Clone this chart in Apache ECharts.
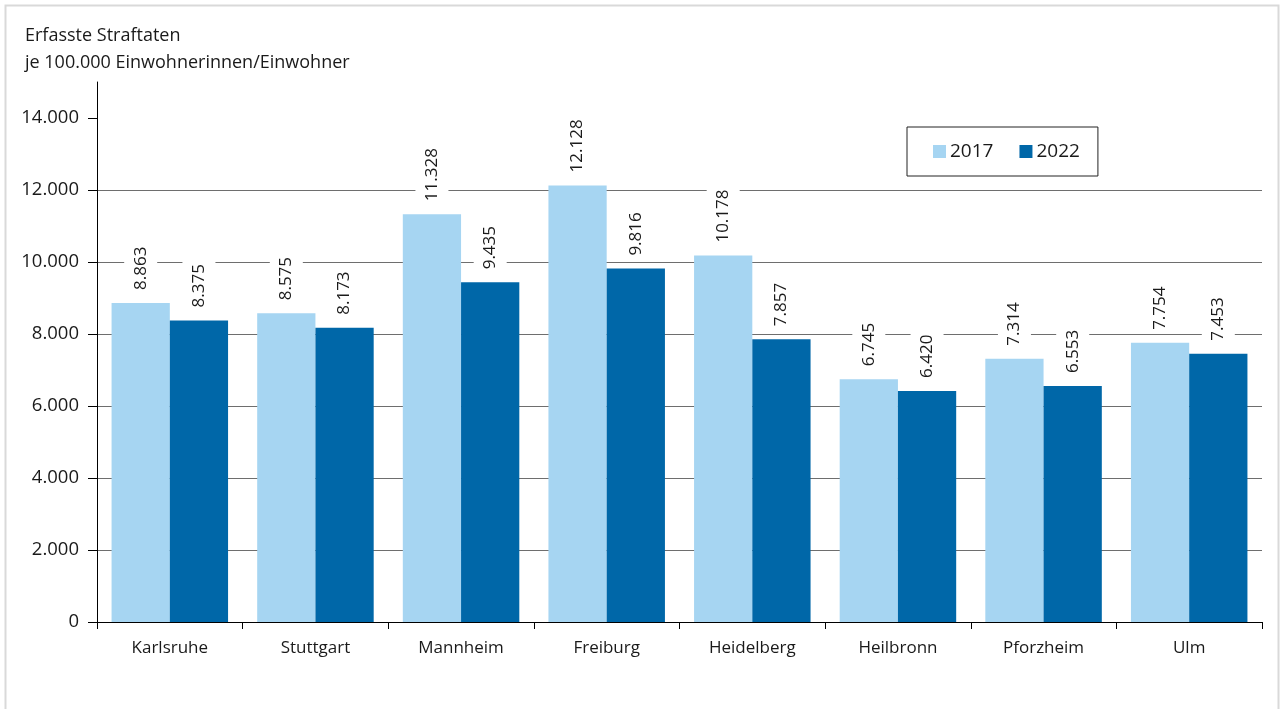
<!DOCTYPE html>
<html>
<head>
<meta charset="utf-8">
<script src="https://cdn.jsdelivr.net/npm/echarts@6/dist/echarts.min.js"></script>
<style>
  html, body { margin: 0; padding: 0; background: #fff; }
  #chart { width: 1280px; height: 709px; }
</style>
</head>
<body>
<div id="chart"></div>
<script>
const cities = ['Karlsruhe', 'Stuttgart', 'Mannheim', 'Freiburg', 'Heidelberg', 'Heilbronn', 'Pforzheim', 'Ulm'];
const values2017 = [8863, 8575, 11328, 12128, 10178, 6745, 7314, 7754];
const values2022 = [8375, 8173, 9435, 9816, 7857, 6420, 6553, 7453];
const yTicks = [0, 2000, 4000, 6000, 8000, 10000, 12000, 14000];

const FONT = '"Open Sans", "Noto Sans", sans-serif';

// German thousands separator
const fmt = (v) => String(v).replace(/\B(?=(\d{3})+(?!\d))/g, '.');

const chart = echarts.init(document.getElementById('chart'));

const barLabel = {
  show: true,
  position: 'top',
  rotate: 90,
  align: 'left',
  verticalAlign: 'middle',
  distance: 10,
  fontFamily: FONT,
  fontSize: 17,
  color: '#1a1a1a',
  backgroundColor: '#fff',
  padding: [8, 3, 8, 3],
  formatter: (p) => fmt(p.value)
};

const option = {
  animation: false,
  textStyle: { fontFamily: FONT },
  graphic: [
    {
      type: 'rect',
      shape: { x: 5.5, y: 5.5, width: 1273, height: 720 },
      style: { fill: 'none', stroke: '#d9d9d9', lineWidth: 2 },
      silent: true
    },
    {
      type: 'text',
      left: 25,
      top: 22,
      style: {
        text: 'Erfasste Straftaten\nje 100.000 Einwohnerinnen/Einwohner',
        font: '18px ' + FONT,
        lineHeight: 27,
        fill: '#1a1a1a'
      }
    }
  ],
  legend: {
    left: 907,
    top: 127,
    orient: 'horizontal',
    backgroundColor: '#fff',
    borderColor: '#222',
    borderWidth: 1,
    padding: [15, 18, 15, 26],
    itemGap: 26,
    itemWidth: 13,
    itemHeight: 13,
    icon: 'rect',
    textStyle: { fontFamily: FONT, fontSize: 19, color: '#1a1a1a', padding: [0, 0, 0, -1] },
    data: ['2017', '2022']
  },
  grid: { left: 97, right: 18, top: 82, bottom: 87 },
  xAxis: {
    type: 'category',
    data: cities,
    axisLine: { lineStyle: { color: '#000', width: 1 } },
    axisTick: { show: true, length: 7, lineStyle: { color: '#000' } },
    axisLabel: { fontFamily: FONT, fontSize: 17, color: '#1a1a1a', margin: 18 }
  },
  yAxis: {
    type: 'value',
    min: 0,
    max: 15000,
    interval: 2000,
    axisLine: { show: true, lineStyle: { color: '#000', width: 1 } },
    axisTick: { show: true, length: 9, customValues: yTicks, lineStyle: { color: '#000' } },
    axisLabel: {
      fontFamily: FONT, fontSize: 18.5, color: '#1a1a1a', margin: 18,
      customValues: yTicks,
      formatter: (v) => fmt(v)
    },
    splitLine: {
      show: true,
      showMinLine: false,
      showMaxLine: false,
      lineStyle: { color: '#6e6e6e', width: 1.2 }
    }
  },
  series: [
    {
      name: '2017',
      type: 'bar',
      data: values2017,
      barGap: '0%',
      barCategoryGap: '20%',
      itemStyle: { color: '#a6d5f2' },
      label: barLabel,
      z: 3
    },
    {
      name: '2022',
      type: 'bar',
      data: values2022,
      barGap: '0%',
      barCategoryGap: '20%',
      itemStyle: { color: '#0067a8' },
      label: barLabel,
      z: 3
    }
  ]
};

chart.setOption(option);
</script>
</body>
</html>
